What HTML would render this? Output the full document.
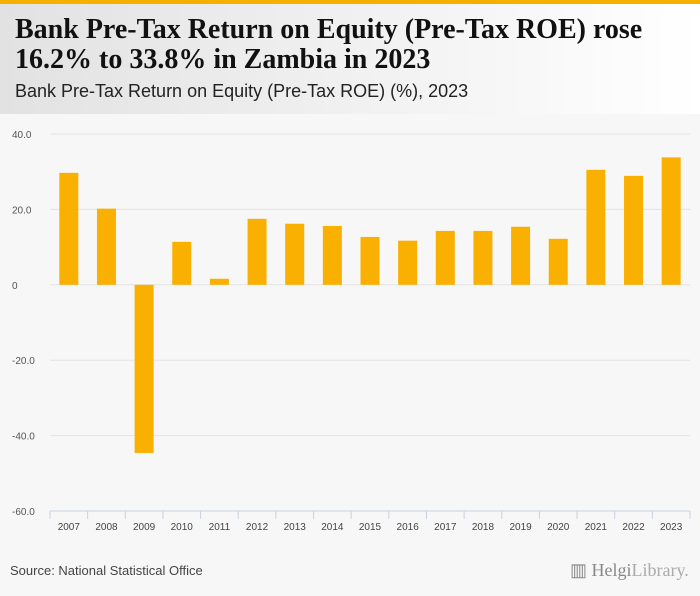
<!DOCTYPE html>
<html><head><meta charset="utf-8"><style>
body{margin:0;width:700px;height:596px;background:#f7f7f7;font-family:"Liberation Sans",sans-serif;overflow:hidden;position:relative}
#bar-top{position:absolute;left:0;top:0;width:700px;height:4px;background:#f5b100}
#header{position:absolute;left:0;top:4px;width:700px;height:110px;background:linear-gradient(90deg,#e2e2e2,#ffffff)}
#title{position:absolute;left:15px;top:11px;font-family:"Liberation Serif",serif;font-weight:bold;font-size:28px;line-height:30px;color:#111;white-space:nowrap}
#subtitle{position:absolute;left:15px;top:77px;font-size:18px;color:#222}
#source{position:absolute;left:10px;top:563px;font-size:13px;color:#444}
#logo{position:absolute;left:570px;top:560px;font-family:"Liberation Serif",serif;font-size:18px;color:#888}
svg{position:absolute;left:0;top:0}
</style></head><body>
<div id="bar-top"></div>
<div id="header">
<div id="title">Bank Pre-Tax Return on Equity (Pre-Tax ROE) rose<br>16.2% to 33.8% in Zambia in 2023</div>
<div id="subtitle">Bank Pre-Tax Return on Equity (Pre-Tax ROE) (%), 2023</div>
</div>
<svg id="chart" width="700" height="596"></svg>
<div id="source">Source: National Statistical Office</div>
<div id="logo">▥ Helgi<span style="color:#aaa">Library.</span></div>
<script>
const categories=["2007","2008","2009","2010","2011","2012","2013","2014","2015","2016","2017","2018","2019","2020","2021","2022","2023"];
const values=[29.7,20.2,-44.6,11.4,1.6,17.5,16.2,15.6,12.7,11.7,14.3,14.3,15.4,12.2,30.5,28.9,33.8];
const ticks=[40,20,0,-20,-40,-60];
const tickLabels=["40.0","20.0","0","-20.0","-40.0","-60.0"];
const svg=document.getElementById('chart');
const NS="http://www.w3.org/2000/svg";
const x0=50,x1=690,yTop=134,yBot=511,vMax=40,vMin=-60;
const step=(x1-x0)/categories.length;
const y=v=>yTop+(vMax-v)/(vMax-vMin)*(yBot-yTop);
const xc=i=>x0+step*(i+0.5);
function mk(t,a){const e=document.createElementNS(NS,t);for(const k in a)e.setAttribute(k,a[k]);svg.appendChild(e);return e;}
ticks.forEach((t,i)=>{
 if(t!==-60){const g=mk('line',{x1:x0,x2:x1,y1:y(t),y2:y(t),stroke:'#e3e3e3','stroke-width':1});
 
 }
 const l=mk('text',{x:12,y:y(t)+4,'font-size':10,fill:'#555'});l.textContent=tickLabels[i];
 
 
});
const ax=mk('line',{x1:x0,x2:x1,y1:yBot,y2:yBot,stroke:'#c8d2e0','stroke-width':1});


for(let i=0;i<=categories.length;i++){const tk=mk('line',{x1:x0+step*i,x2:x0+step*i,y1:yBot,y2:yBot+8,stroke:'#c8d2e0'});

}
categories.forEach((c,i)=>{
 const v=values[i];const bw=19;
 const r=mk('rect',{x:xc(i)-bw/2,y:Math.min(y(v),y(0)),width:bw,height:Math.abs(y(v)-y(0)),fill:'#f9b000'});
 
 
 const t=mk('text',{x:xc(i),y:yBot+19,'font-size':10,fill:'#444','text-anchor':'middle'});t.textContent=c;
 
 
});
</script>
</body></html>
